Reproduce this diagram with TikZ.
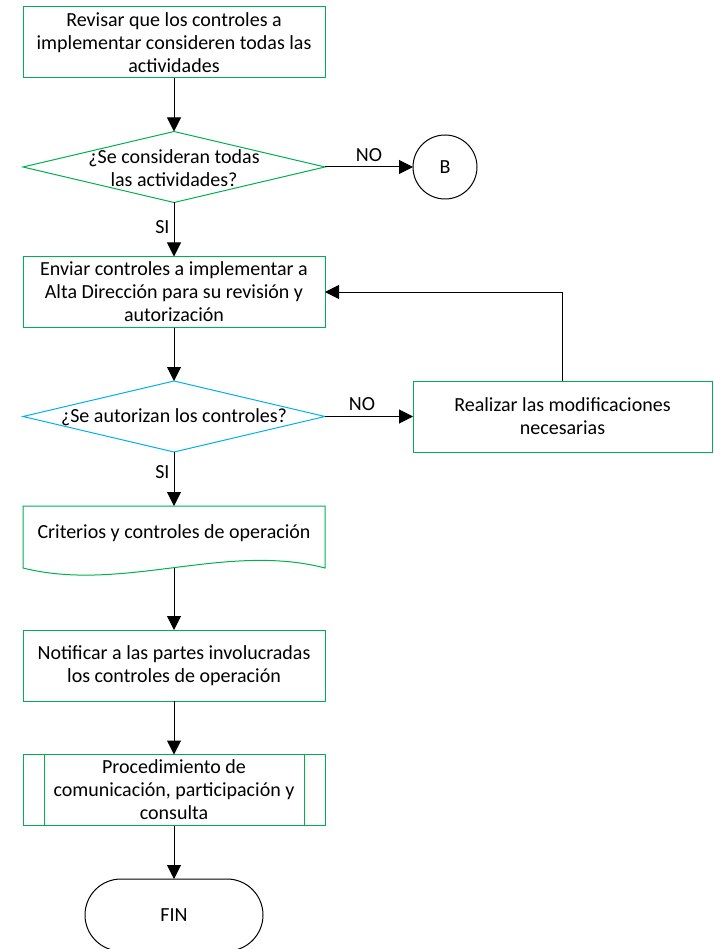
\documentclass[tikz,border=0pt]{standalone}
\usepackage{fontspec}
\setmainfont{Carlito}
\usetikzlibrary{shapes.geometric,arrows.meta}
\definecolor{boxgreen}{RGB}{0,176,80}
\definecolor{decblue}{RGB}{0,176,240}
\begin{document}
\begin{tikzpicture}[x=1pt,y=-1pt,
  every node/.style={font=\fontsize{20}{23}\selectfont},
  proc/.style={draw=boxgreen, line width=1pt, rectangle, minimum width=302pt,
    minimum height=71pt, inner sep=0pt, outer sep=0pt, align=center},
  dec/.style={draw=#1, line width=1pt, diamond, minimum width=302pt,
    minimum height=71pt, inner sep=0pt, outer sep=0pt},
  txt/.style={inner sep=0pt, outer sep=0pt, align=center},
  flow/.style={line width=1pt, -{Triangle[length=14pt,width=14pt]}},
  lbl/.style={inner sep=0pt}
]
\fill[white] (0,0) rectangle (713,949);
\useasboundingbox (0,0) rectangle (713,949);

% main column
\node[proc] (b1) at (174,42.5) {Revisar que los controles a\\implementar consideren todas las\\actividades};
\node[dec=boxgreen] (d1) at (174,167) {};
\node[txt] (d1t) at (174,168) {¿Se consideran todas\\las actividades?};
\node[circle, draw, line width=1pt, minimum size=64pt, inner sep=0pt, outer sep=0pt] (B) at (445,167) {B};

\node[proc] (b2) at (174,292) {Enviar controles a implementar a\\Alta Dirección para su revisión y\\autorización};
\node[dec=decblue] (d2) at (174,416.5) {};
\node[txt] (d2t) at (174,417) {¿Se autorizan los controles?};
\node[proc, minimum width=299pt] (r) at (562.5,416.5) {Realizar las modificaciones\\necesarias};

% document shape
\node[txt, minimum width=302pt, minimum height=62pt] (crit) at (174,537) {};
\node[txt] (critt) at (174,533) {Criterios y controles de operación};
\draw[boxgreen, line width=1pt] (crit.south west) -- (crit.north west) -- (crit.north east)
  -- (crit.south east) .. controls (225,542) and (123,593) .. (crit.south west) -- cycle;

\node[proc] (b3) at (174,665.5) {Notificar a las partes involucradas\\los controles de operación};
\node[proc] (b4) at (174,790) {Procedimiento de\\comunicación, participación y\\consulta};
\draw[boxgreen, line width=1pt] ([xshift=21pt]b4.north west) -- ([xshift=21pt]b4.south west);
\draw[boxgreen, line width=1pt] ([xshift=-21pt]b4.north east) -- ([xshift=-21pt]b4.south east);

\node[draw, line width=1pt, rectangle, rounded corners=36pt, minimum width=178pt,
  minimum height=72pt, inner sep=0pt, outer sep=0pt] (fin) at (174,915) {FIN};

% connectors
\draw[flow] (b1.south) -- (d1.north);
\draw[flow] (d1.east) -- node[lbl, above=5pt] {NO} (B.west);
\draw[flow] (d1.south) -- node[lbl, left=4pt, pos=0.45] {SI} (b2.north);
\draw[flow] (b2.south) -- (d2.north);
\draw[flow] (d2.east) -- node[lbl, above=5pt, pos=0.42] {NO} (r.west);
\draw[flow] (r.north) |- (b2.east);
\draw[flow] (d2.south) -- node[lbl, left=4pt, pos=0.38] {SI} (crit.north);
\draw[flow] (crit.south) -- (b3.north);
\draw[flow] (b3.south) -- (b4.north);
\draw[flow] (b4.south) -- (fin.north);
\end{tikzpicture}
\end{document}
